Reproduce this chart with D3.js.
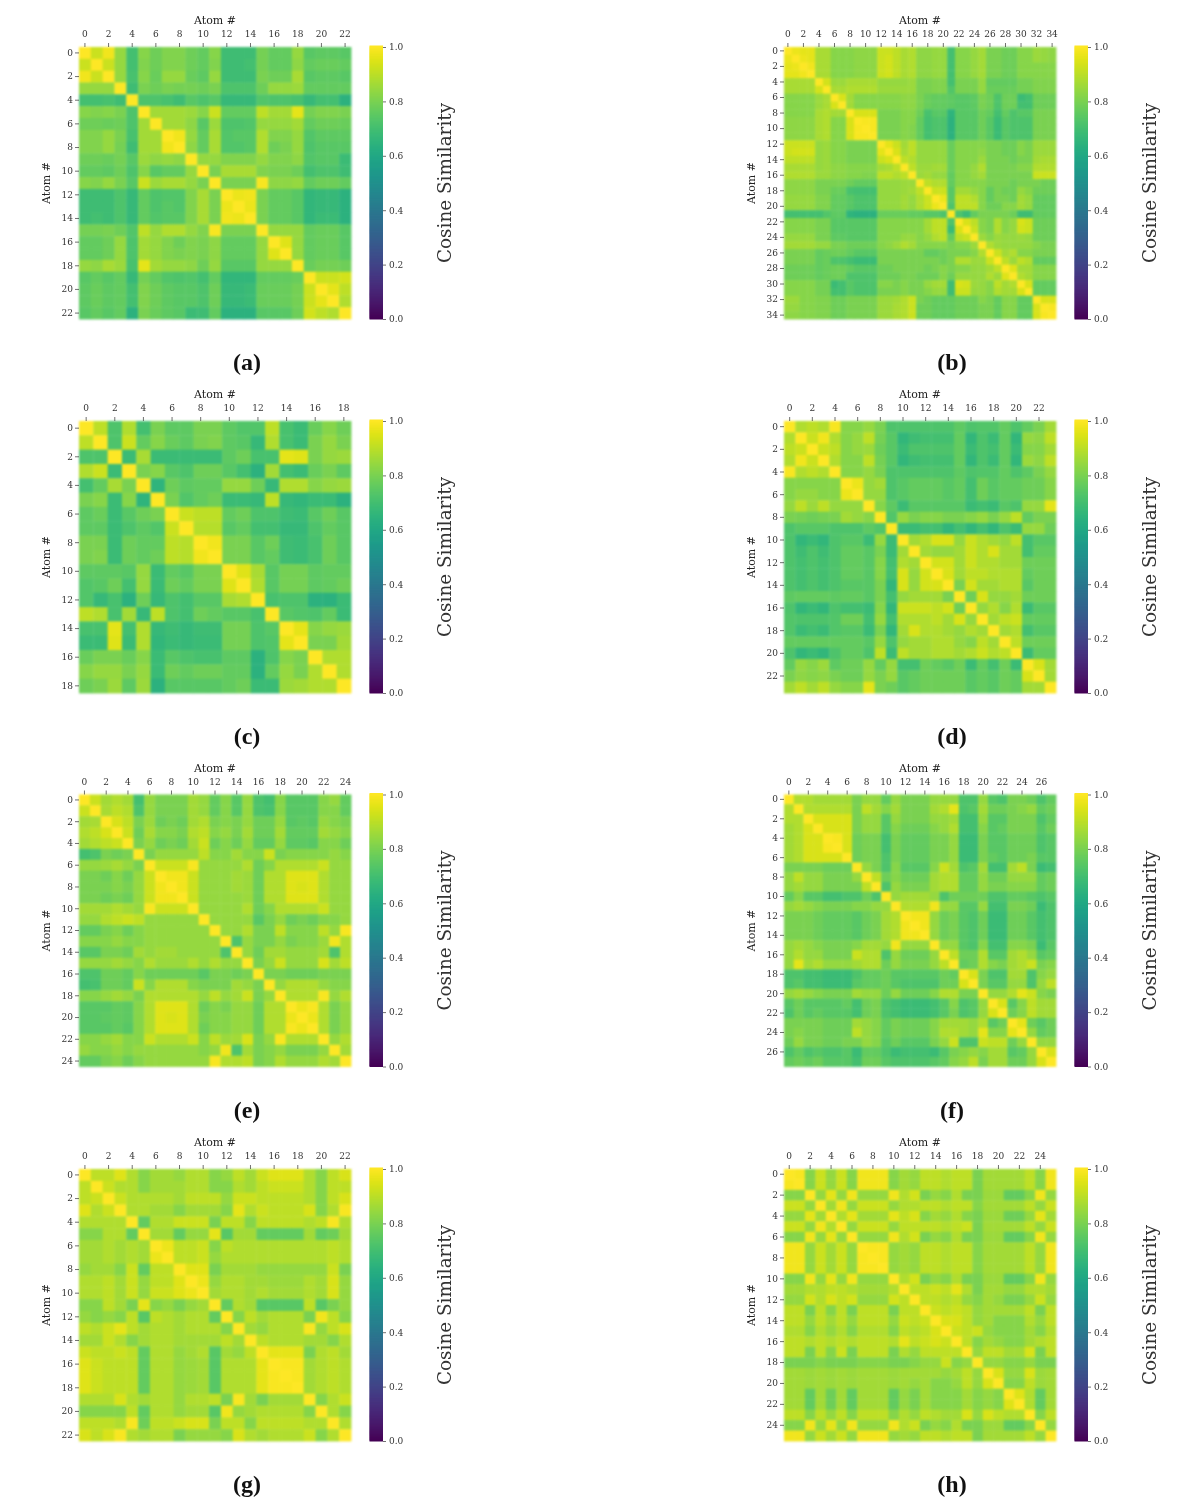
<!DOCTYPE html>
<html>
<head>
<meta charset="utf-8">
<title>Cosine similarity heatmaps</title>
<script src="https://cdn.jsdelivr.net/npm/d3@7"></script>
<style>
  body { margin: 0; background: #fff; }
  svg { display: block; filter: blur(0.45px); }
  text { font-family: "DejaVu Serif", serif; fill: #222; }
  .cells { filter: blur(0.8px); }
  .tick line { stroke: #333; stroke-width: 0.7; }
  .tick text { font-size: 9px; fill: #333; }
  .atom-title { font-size: 11px; }
  .bar-title { font-size: 18.4px; fill: #333; }
  .panel-label { font-family: "Liberation Serif", serif; font-size: 24px; font-weight: bold; fill: #111; }
</style>
</head>
<body>
<div id="chart"></div>
<script>
// lower triangles of the symmetric similarity matrices, in hundredths
const simA = [
  [100],
  [92,100],
  [98,92,100],
  [84,84,84,100],
  [70,70,71,69,100],
  [82,81,82,80,72,100],
  [78,78,77,78,72,86,100],
  [81,81,84,80,71,86,86,100],
  [81,81,84,79,69,86,86,98,100],
  [78,78,77,79,74,85,83,84,83,100],
  [76,76,75,78,72,82,74,76,76,84,100],
  [82,81,84,80,74,92,85,87,87,84,80,100],
  [69,69,69,72,67,76,72,73,73,81,87,80,100],
  [69,69,69,72,67,76,72,74,73,81,87,80,97,100],
  [69,70,69,72,67,76,73,74,74,81,87,80,98,97,100],
  [79,79,80,78,73,90,84,88,88,84,81,99,80,80,80,100],
  [76,76,78,84,72,86,84,81,78,81,80,83,76,76,76,84,100],
  [76,76,78,84,72,86,84,81,80,81,80,83,76,76,76,84,95,100],
  [84,83,87,85,71,96,86,84,84,83,78,84,74,74,74,84,84,84,100],
  [74,76,74,76,67,79,76,73,72,73,70,76,66,66,66,76,76,76,77,100],
  [75,77,75,76,70,81,78,75,74,74,72,78,67,67,68,77,77,77,79,92,100],
  [75,77,75,76,70,81,78,75,74,74,72,78,67,67,68,77,77,77,79,92,96,100],
  [74,76,74,76,64,80,77,75,74,68,69,76,64,64,64,74,74,74,78,93,90,88,100]
];

const simB = [
  [100],
  [97,100],
  [96,97,100],
  [96,96,98,100],
  [87,87,87,87,100],
  [87,87,87,87,93,100],
  [82,82,82,82,85,87,100],
  [82,82,82,82,85,87,94,100],
  [82,82,82,82,87,88,86,86,100],
  [83,83,83,83,87,88,82,82,94,100],
  [83,83,83,83,87,88,82,82,94,99,100],
  [83,83,83,83,87,88,82,82,94,99,99,100],
  [92,92,92,92,84,85,82,82,80,80,80,80,100],
  [92,93,93,93,84,85,82,82,80,80,80,80,96,100],
  [90,90,90,90,84,85,82,82,80,80,80,80,92,94,100],
  [87,87,87,87,84,85,83,83,82,82,82,82,86,87,90,100],
  [88,88,88,88,85,85,83,83,82,82,81,81,90,90,88,90,100],
  [83,83,83,83,80,80,80,80,78,76,76,76,84,84,84,85,85,100],
  [83,83,83,83,80,80,77,77,71,70,70,70,84,84,84,85,86,90,100],
  [84,84,84,84,81,81,76,76,74,72,72,72,84,84,84,86,84,88,92,100],
  [84,84,84,84,81,81,76,76,74,72,72,72,84,84,84,86,84,88,92,97,100],
  [70,70,70,70,70,73,75,75,65,64,64,64,77,77,77,77,76,76,74,74,72,100],
  [82,82,82,82,80,80,74,74,74,74,74,74,82,82,82,82,82,82,86,90,90,72,100],
  [82,82,82,82,80,80,74,74,74,74,74,74,82,82,82,82,82,82,86,90,90,68,94,100],
  [84,84,84,84,80,80,75,75,74,74,74,74,82,82,82,84,84,82,84,88,90,76,90,92,100],
  [86,86,86,86,84,84,80,80,78,78,78,78,82,83,85,88,86,82,82,82,82,80,82,82,85,100],
  [80,80,80,80,76,77,78,78,76,74,74,74,80,80,80,80,80,80,76,76,78,80,80,80,82,88,100],
  [80,80,80,80,76,77,72,72,70,68,68,68,80,80,80,80,80,80,80,80,78,80,88,88,85,85,92,100],
  [78,78,78,78,76,77,78,78,76,74,74,74,78,78,80,80,80,80,78,80,82,80,82,82,84,84,86,90,100],
  [78,78,78,78,76,77,78,78,72,72,72,72,78,78,78,80,80,78,78,78,82,78,84,84,84,84,88,85,95,100],
  [82,82,82,82,79,79,68,70,74,72,72,72,82,82,80,82,80,80,84,86,86,69,94,93,85,84,82,90,86,88,100],
  [82,82,82,82,79,79,70,70,74,72,72,72,80,80,80,82,80,80,82,84,84,69,92,92,84,84,82,88,86,86,94,100],
  [85,85,82,82,81,81,78,78,80,80,80,80,85,85,86,88,92,80,78,76,76,76,78,78,78,82,80,76,82,82,76,76,100],
  [84,84,82,82,81,81,78,78,80,80,80,80,85,85,87,88,92,78,78,76,76,76,78,78,78,80,80,76,82,82,76,76,94,100],
  [83,83,82,82,81,81,78,78,80,80,80,80,85,85,87,88,92,78,78,76,76,76,78,78,78,80,80,76,82,82,76,76,94,99,100]
];

const simC = [
  [100],
  [90,100],
  [72,72,100],
  [88,92,68,100],
  [70,76,87,80,100],
  [80,82,68,82,65,100],
  [75,77,68,74,78,80,100],
  [75,75,68,72,75,73,92,100],
  [80,80,68,78,76,76,90,89,100],
  [80,81,68,78,76,78,90,89,98,100],
  [75,75,75,74,84,68,76,74,80,80,100],
  [73,74,78,70,84,68,78,76,80,80,95,100],
  [73,67,71,64,78,67,72,70,74,74,87,88,100],
  [90,88,71,86,67,90,72,70,78,76,74,74,71,100],
  [71,71,96,70,88,67,69,67,69,69,79,79,72,74,100],
  [68,68,95,68,88,66,68,67,68,68,79,79,72,73,96,100],
  [77,80,80,77,82,68,74,72,71,71,75,75,64,72,82,80,100],
  [82,84,84,80,84,68,78,76,78,78,76,76,64,76,84,80,88,100],
  [78,80,85,75,85,64,74,74,74,74,76,78,68,68,85,86,88,88,100]
];

const simD = [
  [100],
  [88,100],
  [90,92,100],
  [88,98,92,100],
  [99,88,90,88,100],
  [82,82,82,82,82,100],
  [82,84,84,82,82,97,100],
  [84,90,85,90,84,84,84,100],
  [80,79,78,79,80,86,84,82,100],
  [72,74,74,74,72,72,72,75,73,100],
  [72,66,68,66,72,74,74,68,84,68,100],
  [72,69,72,69,72,76,76,74,80,68,86,100],
  [72,70,72,70,72,76,76,74,82,70,88,86,100],
  [72,70,72,70,72,76,76,74,82,70,94,84,93,100],
  [72,70,72,70,72,74,74,74,80,66,94,84,93,94,100],
  [75,76,76,76,75,76,76,74,80,70,84,86,86,86,80,100],
  [72,66,68,66,72,70,70,68,82,66,92,92,92,90,93,78,100],
  [73,72,72,72,73,78,78,70,84,70,88,88,88,90,86,94,84,100],
  [73,68,70,68,73,74,74,68,80,66,86,94,88,88,86,84,88,86,100],
  [76,76,76,76,76,76,76,74,84,72,84,86,86,88,88,84,82,90,86,100],
  [72,66,68,66,72,76,76,72,90,68,90,86,86,88,88,86,88,92,88,90,100],
  [76,84,82,85,75,78,78,84,76,84,70,70,78,76,74,78,68,76,70,78,68,100],
  [80,83,82,83,80,78,78,84,80,84,74,76,78,78,78,78,74,76,74,78,76,94,100],
  [86,90,86,90,84,82,82,96,80,78,74,76,78,78,78,78,74,76,74,78,76,86,86,100]
];

const simE = [
  [100],
  [92,100],
  [86,87,100],
  [88,90,94,100],
  [86,88,90,92,100],
  [70,72,80,78,80,100],
  [84,84,85,87,84,80,100],
  [80,80,78,82,78,84,92,100],
  [80,80,80,82,80,84,92,98,100],
  [80,80,78,80,78,84,92,98,98,100],
  [86,86,86,88,86,84,99,92,92,92,100],
  [84,84,88,90,92,90,84,84,84,84,84,100],
  [76,76,80,82,78,82,84,84,84,84,84,84,100],
  [82,82,82,84,82,82,84,84,84,84,84,84,84,100],
  [74,74,80,80,78,86,84,86,86,84,84,84,84,72,100],
  [84,84,84,86,84,82,88,85,85,85,88,84,88,84,84,100],
  [72,72,78,78,76,82,78,78,78,78,78,74,80,80,78,80,100],
  [70,71,78,78,76,92,82,88,88,88,82,80,80,80,86,84,80,100],
  [82,82,84,86,84,80,88,88,88,88,88,84,90,84,86,92,80,84,100],
  [74,74,74,76,75,82,88,95,95,95,88,78,82,80,84,84,78,88,88,100],
  [74,74,75,76,75,82,88,95,94,95,88,80,82,82,84,84,78,88,88,97,100],
  [74,74,74,76,74,82,88,95,95,95,88,78,82,82,84,84,78,88,88,99,97,100],
  [82,82,84,86,82,82,92,88,88,88,92,82,90,85,86,94,80,84,99,88,88,88,100],
  [84,82,82,84,82,84,84,84,84,84,84,82,84,98,72,86,80,82,84,80,80,80,84,100],
  [76,76,80,82,78,82,84,84,84,84,84,84,99,88,88,90,80,82,88,84,84,84,88,86,100]
];

const simF = [
  [100],
  [88,100],
  [88,88,100],
  [86,88,94,100],
  [86,88,94,94,100],
  [86,88,94,94,99,100],
  [86,88,94,94,94,94,100],
  [80,80,80,80,78,78,78,100],
  [84,90,84,84,80,80,80,84,100],
  [84,86,84,84,80,80,80,80,90,100],
  [76,82,74,74,70,70,72,72,78,72,100],
  [84,86,84,82,80,80,80,82,82,84,84,100],
  [80,80,80,78,76,76,76,74,78,80,86,88,100],
  [80,80,80,78,76,76,76,74,78,80,86,88,98,100],
  [80,80,80,78,76,76,76,74,78,80,86,88,98,98,100],
  [84,86,84,82,80,80,80,82,86,86,84,98,84,84,84,100],
  [84,88,84,84,80,80,80,92,88,88,72,84,78,78,78,84,100],
  [84,96,86,88,84,84,84,86,88,88,78,84,80,80,80,84,90,100],
  [72,72,70,70,68,68,68,72,76,76,78,74,74,74,74,74,78,76,100],
  [72,74,70,70,68,68,68,74,76,76,78,74,72,72,72,72,78,78,94,100],
  [84,86,84,82,80,80,80,86,84,84,78,84,78,78,78,82,88,88,80,80,100],
  [74,78,74,74,74,74,76,70,78,80,72,70,68,68,68,70,74,82,72,74,84,100],
  [72,78,74,76,74,74,74,70,78,80,72,70,68,68,68,70,74,80,72,74,84,94,100],
  [80,80,80,80,78,78,78,86,84,82,76,80,78,78,78,82,86,86,86,84,88,74,78,100],
  [80,82,80,80,78,78,78,90,84,82,76,80,78,78,78,82,88,88,86,84,96,82,82,96,100],
  [78,84,80,80,78,78,80,80,84,82,74,78,74,74,74,80,84,92,72,72,92,90,90,78,84,100],
  [72,76,72,74,72,72,74,68,76,76,72,68,70,70,70,68,74,80,82,84,82,86,86,74,76,84,100],
  [76,78,76,78,74,74,74,70,78,78,74,72,72,72,72,74,76,82,84,90,80,86,86,78,78,84,94,100]
];

const simG = [
  [100],
  [90,100],
  [90,92,100],
  [95,88,92,100],
  [88,88,88,88,100],
  [82,82,88,88,76,100],
  [86,86,88,86,88,86,100],
  [86,86,88,86,88,86,97,100],
  [84,86,86,82,92,76,90,90,100],
  [88,88,90,86,92,84,90,90,95,100],
  [88,88,90,86,92,84,92,92,95,97,100],
  [82,82,90,86,80,96,82,84,80,84,86,100],
  [84,82,84,82,90,74,90,88,86,88,88,76,100],
  [90,88,92,96,90,86,88,88,86,88,88,88,82,100],
  [86,86,92,88,82,86,88,88,86,86,86,86,90,86,100],
  [92,90,90,92,90,76,88,88,84,86,88,74,86,84,90,100],
  [95,92,90,90,90,76,88,88,84,85,86,74,88,88,88,96,100],
  [95,92,90,90,90,76,88,88,84,85,86,74,88,88,88,96,99,100],
  [95,92,90,90,90,76,88,88,84,85,86,74,88,88,88,96,99,99,100],
  [88,88,88,94,88,86,88,88,84,88,88,90,80,99,86,80,86,86,86,100],
  [82,82,82,82,90,76,88,88,84,86,86,74,98,84,86,88,88,88,88,82,100],
  [90,90,90,88,99,78,90,90,92,94,94,80,90,90,82,90,90,90,90,88,88,100],
  [94,90,94,99,88,86,88,88,80,84,84,84,82,94,88,86,88,88,88,92,82,88,100]
];

const simH = [
  [100],
  [99,100],
  [82,82,100],
  [92,92,84,100],
  [84,84,96,86,100],
  [92,92,84,98,88,100],
  [82,82,98,84,96,84,100],
  [98,98,84,92,86,92,84,100],
  [98,98,84,92,86,92,84,99,100],
  [98,98,84,92,86,92,84,99,99,100],
  [82,82,98,84,96,84,98,84,84,84,100],
  [86,86,88,88,90,90,88,86,86,86,88,100],
  [84,84,93,88,94,90,93,84,84,84,93,90,100],
  [90,90,80,90,82,90,80,90,90,90,80,90,90,100],
  [90,90,84,90,86,90,84,90,90,90,84,92,90,92,100],
  [88,88,82,88,84,88,82,88,88,88,82,90,88,90,94,100],
  [90,90,88,90,88,90,88,90,90,90,88,96,90,92,94,92,100],
  [90,90,80,90,82,92,80,90,90,90,80,88,84,90,90,90,90,100],
  [80,80,80,82,80,80,80,82,82,82,80,80,82,84,84,92,82,84,100],
  [86,86,85,86,85,86,85,86,86,86,85,86,86,86,86,84,86,90,84,100],
  [86,86,85,86,85,86,85,86,86,86,85,86,84,86,82,82,84,90,84,94,100],
  [86,86,76,86,78,86,76,86,86,86,76,84,80,86,82,82,82,86,82,84,82,100],
  [86,86,76,86,78,86,76,86,86,86,76,84,80,86,82,82,82,86,82,84,82,95,100],
  [90,90,82,90,84,90,82,90,90,90,82,88,84,90,88,86,86,94,84,94,90,88,88,100],
  [82,82,98,84,96,84,98,84,84,84,98,88,92,80,84,82,88,80,80,85,85,76,76,82,100],
  [98,98,84,92,86,92,84,98,98,98,84,86,84,90,90,88,90,90,80,86,86,86,86,90,84,100]
];

const panelRows = [simA, simB, simC, simD, simE, simF, simG, simH];
const panelLabels = ['(a)', '(b)', '(c)', '(d)', '(e)', '(f)', '(g)', '(h)'];
const barTicks = [0, 0.2, 0.4, 0.6, 0.8, 1];

const svgWidth = 1200,
  svgHeight = 1510,
  mapSize = 272,
  barWidth = 13.5;

// panel origins
const panelLeft = [79, 784];
const panelTop = [47, 421, 794.5, 1169];

const color = d3.scaleSequential(d3.interpolateViridis).domain([0, 1]);

const svg = d3.select('#chart')
  .append('svg')
  .attr('width', svgWidth)
  .attr('height', svgHeight);

const barY = d3.scaleLinear().domain([0, 1]).range([mapSize, 0]);

panelRows.forEach((rows, p) => {
  const n = rows.length;
  const ids = d3.range(n);
  const band = d3.scaleBand().domain(ids).range([0, mapSize]);
  const labelled = ids.filter((d) => d % 2 === 0);

  const g = svg.append('g')
    .attr('transform', `translate(${panelLeft[p % 2]},${panelTop[Math.floor(p / 2)]})`);

  g.append('g')
    .attr('class', 'cells')
    .selectAll('rect')
    .data(d3.cross(ids, ids))
    .join('rect')
    .attr('x', (d) => band(d[1]))
    .attr('y', (d) => band(d[0]))
    .attr('width', band.bandwidth() + 0.4)
    .attr('height', band.bandwidth() + 0.4)
    .attr('fill', (d) => color(rows[Math.max(d[0], d[1])][Math.min(d[0], d[1])] / 100));

  // atom axes
  const xAxis = g.append('g')
    .call(d3.axisTop(band).tickValues(labelled).tickSize(4).tickPadding(6));
  const yAxis = g.append('g')
    .call(d3.axisLeft(band).tickValues(labelled).tickSize(4).tickPadding(2));
  xAxis.select('.domain').remove();
  yAxis.select('.domain').remove();

  g.append('text')
    .attr('class', 'atom-title')
    .attr('x', mapSize / 2)
    .attr('y', -23)
    .attr('text-anchor', 'middle')
    .text('Atom #');

  g.append('text')
    .attr('class', 'atom-title')
    .attr('transform', `translate(-29,${mapSize / 2}) rotate(-90)`)
    .attr('text-anchor', 'middle')
    .text('Atom #');

  // colour bar
  const bar = g.append('g').attr('transform', `translate(${mapSize + 18.5},0)`);
  const steps = d3.range(0, 256).map((d) => d / 255);
  bar.selectAll('rect')
    .data(steps)
    .join('rect')
    .attr('x', 0)
    .attr('y', (d) => barY(d) - 1.5)
    .attr('width', barWidth)
    .attr('height', 2)
    .attr('fill', (d) => color(d));

  const barAxis = bar.append('g')
    .attr('transform', `translate(${barWidth},0)`)
    .call(d3.axisRight(barY).tickValues(barTicks).tickSize(3).tickPadding(3).tickFormat(d3.format('.1f')));
  barAxis.select('.domain').remove();

  bar.append('text')
    .attr('class', 'bar-title')
    .attr('transform', `translate(${barWidth + 63},${mapSize / 2}) rotate(-90)`)
    .attr('text-anchor', 'middle')
    .attr('dominant-baseline', 'middle')
    .text('Cosine Similarity');

  g.append('text')
    .attr('class', 'panel-label')
    .attr('x', 168)
    .attr('y', mapSize + 51)
    .attr('text-anchor', 'middle')
    .text(panelLabels[p]);
});
</script>
</body>
</html>
